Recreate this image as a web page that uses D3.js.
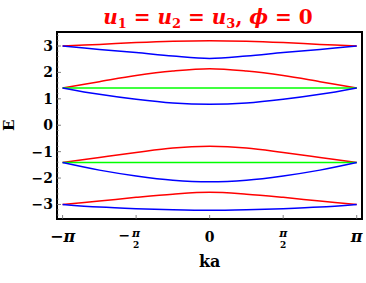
<!DOCTYPE html>
<html>
<meta charset="utf-8">
<head>
<script src="https://cdn.jsdelivr.net/npm/d3@7"></script>
<style>
  body { margin: 0; background: #fff; }
  text { font-family: "DejaVu Serif", "Liberation Serif", serif; font-weight: bold; }
</style>
</head>
<body>
<div id="chart"></div>
<script>

// k samples (units of pi), symmetric about 0
var kvals = [-1, -0.75, -0.5, -0.25, 0, 0.25, 0.5, 0.75, 1];

// band energies at the k samples
var band1 = [3.00, 3.06, 3.13, 3.18, 3.20, 3.18, 3.13, 3.06, 3.00];       // red
var band2 = [3.00, 2.87, 2.75, 2.62, 2.53, 2.62, 2.75, 2.87, 3.00];       // blue
var band3 = [1.414, 1.65, 1.88, 2.05, 2.14, 2.05, 1.88, 1.65, 1.414];     // red
var band4 = [1.414, 1.414, 1.414, 1.414, 1.414, 1.414, 1.414, 1.414, 1.414]; // green
var band5 = [1.414, 1.17, 0.98, 0.84, 0.79, 0.84, 0.98, 1.17, 1.414];     // blue
var band6 = [-1.414, -1.22, -1.03, -0.86, -0.80, -0.86, -1.03, -1.22, -1.414]; // red
var band7 = [-1.414, -1.414, -1.414, -1.414, -1.414, -1.414, -1.414, -1.414, -1.414]; // green
var band8 = [-1.414, -1.70, -1.92, -2.08, -2.14, -2.08, -1.92, -1.70, -1.414]; // blue
var band9 = [-3.00, -2.87, -2.73, -2.61, -2.54, -2.61, -2.73, -2.87, -3.00];  // red
var band10 = [-3.00, -3.10, -3.16, -3.20, -3.22, -3.20, -3.16, -3.10, -3.00]; // blue

var bands = [band1, band2, band3, band4, band5, band6, band7, band8, band9, band10];
var bandColors = ["#ff0000", "#0000ff", "#ff0000", "#00ff00", "#0000ff",
                  "#ff0000", "#00ff00", "#0000ff", "#ff0000", "#0000ff"];

var yTicks = [-3, -2, -1, 0, 1, 2, 3];
var xTicks = [-1, -0.5, 0, 0.5, 1];

var W = 366, H = 283;
var pLeft = 57, pRight = 362, pTop = 32, pBottom = 219;

var svg = d3.select("#chart").append("svg")
    .attr("width", W).attr("height", H);

var x = d3.scaleLinear().domain([-1.038, 1.036]).range([pLeft, pRight]);
var y = d3.scaleLinear().domain([-3.55, 3.53]).range([pBottom, pTop]);

// bands
var line = d3.line()
    .x(function(d, i){ return x(kvals[i]); })
    .y(function(d){ return y(d); })
    .curve(d3.curveCatmullRom);

svg.selectAll("path.band")
    .data(bands)
    .enter()
    .append("path")
    .attr("class", "band")
    .attr("d", line)
    .attr("fill", "none")
    .attr("stroke", function(d, i){ return bandColors[i]; })
    .attr("stroke-width", 1.5);

// frame
svg.append("rect")
    .attr("x", pLeft).attr("y", pTop)
    .attr("width", pRight - pLeft).attr("height", pBottom - pTop)
    .attr("fill", "none").attr("stroke", "#000").attr("stroke-width", 2);

// y ticks (major + minor)
var yMinor = d3.range(-3.4, 3.41, 0.2);
svg.selectAll("line.ymin")
    .data(yMinor)
    .enter()
    .append("line")
    .attr("x1", pLeft).attr("x2", pLeft + 2)
    .attr("y1", function(d){ return y(d); }).attr("y2", function(d){ return y(d); })
    .attr("stroke", "#888").attr("stroke-width", 0.6);

svg.selectAll("line.ytick")
    .data(yTicks)
    .enter()
    .append("line")
    .attr("x1", pLeft).attr("x2", pLeft + 4)
    .attr("y1", function(d){ return y(d); }).attr("y2", function(d){ return y(d); })
    .attr("stroke", "#666").attr("stroke-width", 0.8);

svg.selectAll("text.ylab")
    .data(yTicks)
    .enter()
    .append("text")
    .attr("x", 53)
    .attr("y", function(d){ return y(d) + 5; })
    .attr("text-anchor", "end")
    .attr("font-size", 14)
    .text(function(d){ return d < 0 ? "\u2212" + Math.abs(d) : d; });

// x ticks
svg.selectAll("line.xtick")
    .data(xTicks)
    .enter()
    .append("line")
    .attr("x1", function(d){ return x(d); }).attr("x2", function(d){ return x(d); })
    .attr("y1", pBottom).attr("y2", pBottom - 4)
    .attr("stroke", "#666").attr("stroke-width", 0.8);

svg.selectAll("g.xlab")
    .data(xTicks)
    .enter()
    .append("g")
    .each(function(d){
        var g = d3.select(this);
        var cx = x(d);
        if (d === 0) {
            g.append("text").attr("x", cx).attr("y", 242)
                .attr("text-anchor", "middle").attr("font-size", 14).text("0");
        } else if (Math.abs(d) === 1) {
            var tx = g.append("text").attr("x", cx).attr("y", 242)
                .attr("text-anchor", "middle").attr("font-size", 16);
            if (d < 0) tx.append("tspan").text("\u2212");
            tx.append("tspan").attr("font-style", "italic").text("\u03c0");
        } else {
            if (d < 0) {
                g.append("text").attr("x", cx - 6).attr("y", 240)
                    .attr("text-anchor", "end").attr("font-size", 14).text("\u2212");
            }
            g.append("text").attr("x", cx).attr("y", 237)
                .attr("text-anchor", "middle").attr("font-size", 11)
                .attr("font-style", "italic").text("\u03c0");
            g.append("text").attr("x", cx).attr("y", 248)
                .attr("text-anchor", "middle").attr("font-size", 9).text("2");
        }
    });

// axis titles
svg.append("text")
    .attr("x", x(0)).attr("y", 267)
    .attr("text-anchor", "middle").attr("font-size", 16)
    .text("ka");

svg.append("text")
    .attr("transform", "translate(14," + y(0) + ") rotate(-90)")
    .attr("text-anchor", "middle").attr("font-size", 15)
    .text("E");

// title
var t = svg.append("text")
    .attr("x", 208).attr("y", 24)
    .attr("text-anchor", "middle").attr("font-size", 20)
    .attr("fill", "#ff0000");
t.append("tspan").attr("font-style", "italic").text("u");
t.append("tspan").attr("font-size", 13).attr("dy", 4).text("1");
t.append("tspan").attr("dy", -4).text(" = ");
t.append("tspan").attr("font-style", "italic").text("u");
t.append("tspan").attr("font-size", 13).attr("dy", 4).text("2");
t.append("tspan").attr("dy", -4).text(" = ");
t.append("tspan").attr("font-style", "italic").text("u");
t.append("tspan").attr("font-size", 13).attr("dy", 4).text("3");
t.append("tspan").attr("dy", -4).text(", ");
t.append("tspan").attr("font-style", "italic").text("\u03d5");
t.append("tspan").text(" = 0");

</script>
</body>
</html>
